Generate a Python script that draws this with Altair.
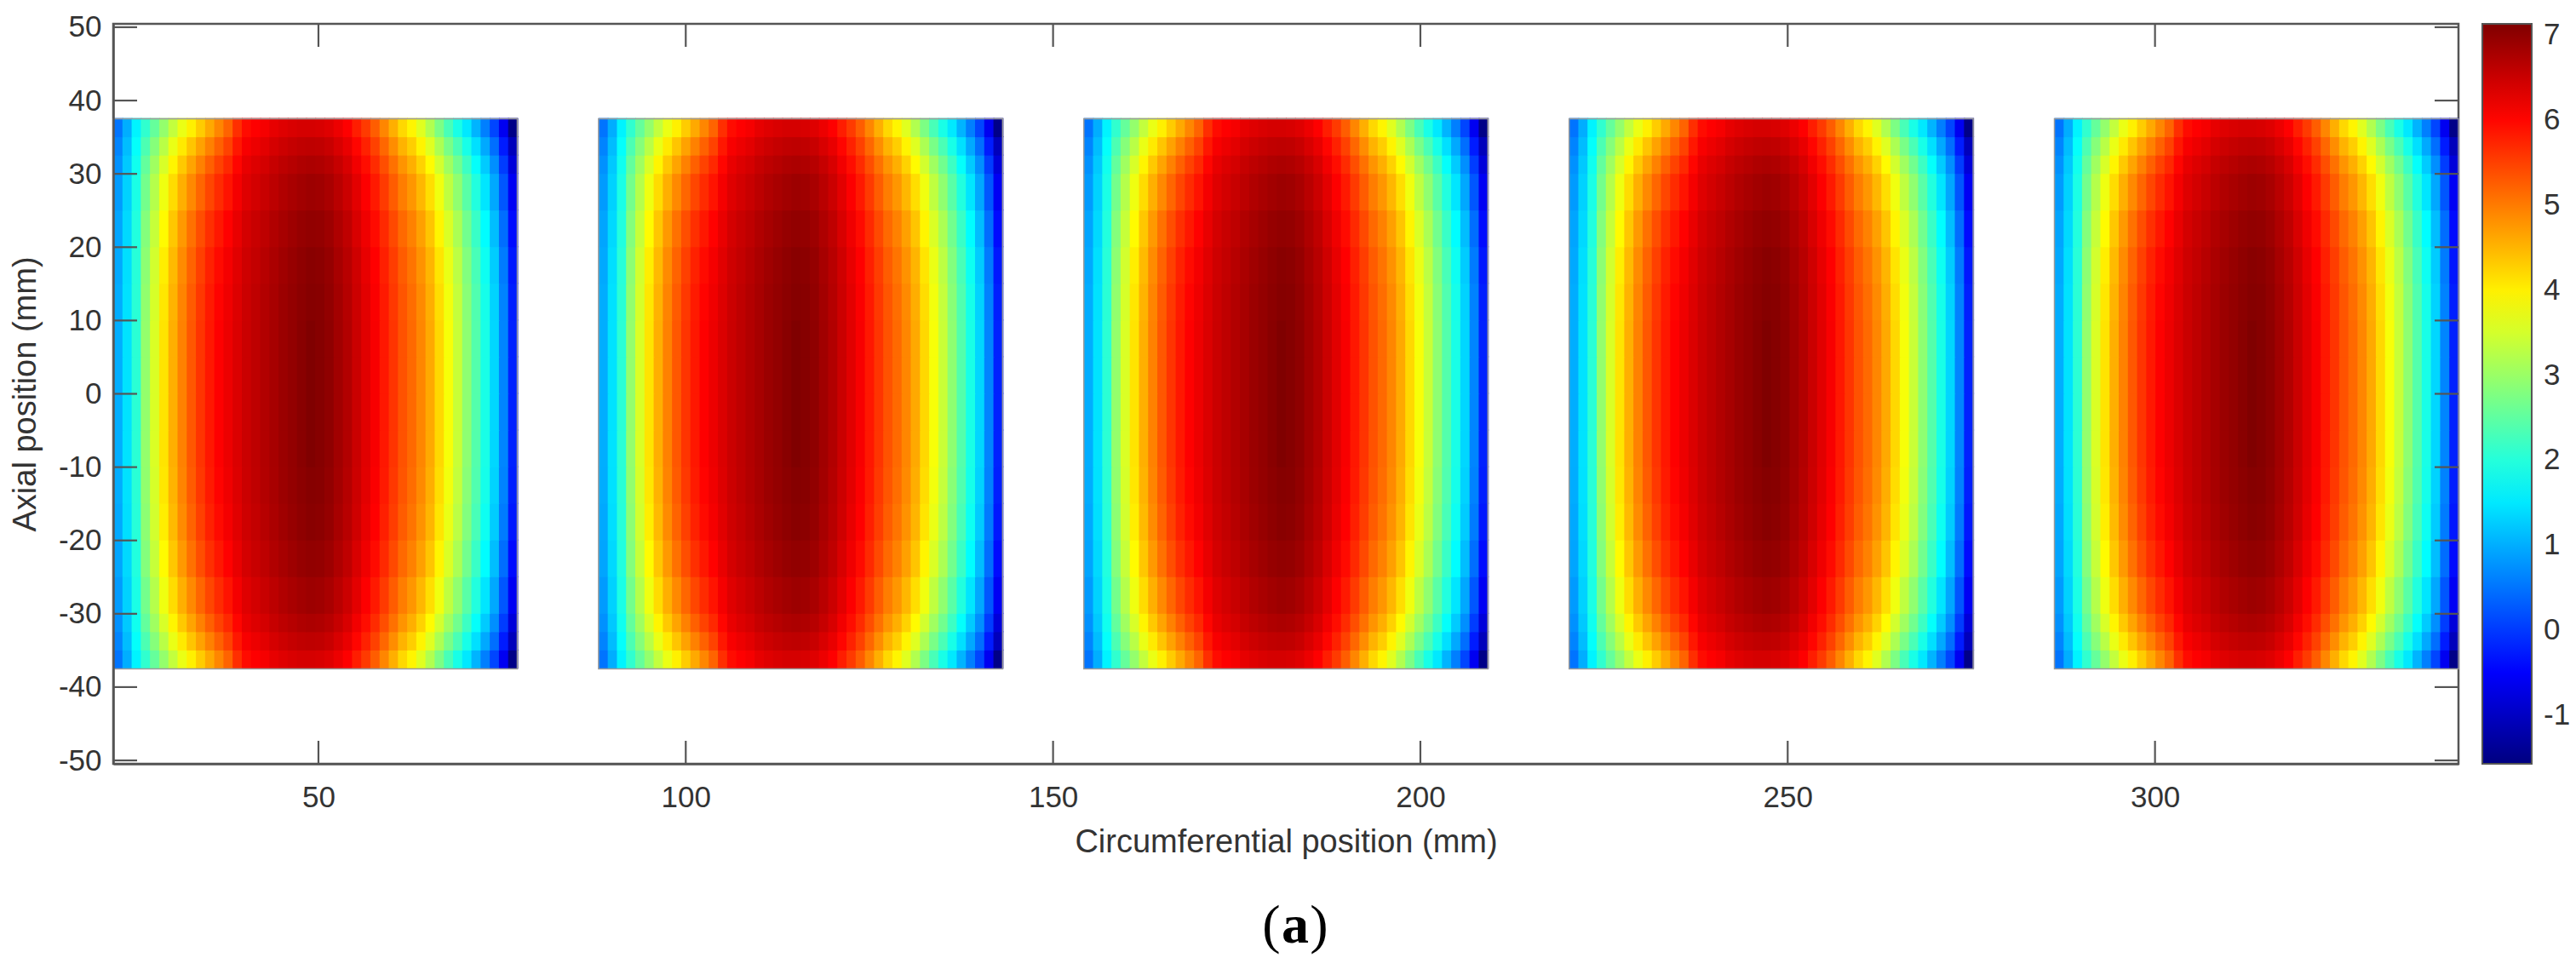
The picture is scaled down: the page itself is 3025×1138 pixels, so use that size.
import altair as alt
import pandas as pd

alt.data_transformers.disable_max_rows()

# ---- data ----
panel_x0 = [22.07, 88.13, 154.19, 220.25, 286.31]
panel_x1 = [77.07, 143.13, 209.19, 275.25, 341.31]
panel_y0 = -37.5
panel_y1 = 37.5

row_edges = [-37.5, -35, -32.5, -30, -25, -20, -15, -10, -5, 0, 5, 10, 15, 20, 25, 30, 32.5, 35, 37.5]
row_class = ["H", "G", "F", "E", "D", "C", "B", "A", "A", "A", "A", "B", "C", "D", "E", "F", "G", "H"]

prof_A = [1.0, 1.45, 2.05, 2.95, 3.55, 4.1, 4.55, 4.95, 5.3, 5.6, 5.85, 6.05, 6.2, 6.35, 6.5, 6.6, 6.7, 6.8, 6.9, 6.97,
          7.05, 7.13, 7.08, 7.0, 6.85, 6.7, 6.5, 6.3, 6.1, 5.85, 5.6, 5.35, 5.15, 4.9, 4.6, 4.2, 3.8, 3.4, 2.9, 2.4,
          1.9, 1.35, 0.65, -0.2]
prof_B = [0.99, 1.44, 2.04, 2.93, 3.52, 4.07, 4.52, 4.92, 5.27, 5.57, 5.82, 6.02, 6.17, 6.33, 6.49, 6.59, 6.69, 6.79,
          6.89, 6.96, 7.03, 7.08, 7.06, 6.98, 6.83, 6.68, 6.48, 6.28, 6.08, 5.83, 5.57, 5.32, 5.12, 4.87, 4.56, 4.16,
          3.76, 3.36, 2.86, 2.37, 1.87, 1.32, 0.62, -0.23]
prof_C = [0.96, 1.42, 2.02, 2.89, 3.48, 4.01, 4.46, 4.86, 5.2, 5.5, 5.76, 5.96, 6.13, 6.3, 6.46, 6.56, 6.66, 6.76, 6.86,
          6.93, 7.0, 7.05, 7.03, 6.95, 6.8, 6.65, 6.45, 6.24, 6.04, 5.78, 5.52, 5.26, 5.06, 4.8, 4.5, 4.09, 3.69, 3.29,
          2.8, 2.3, 1.8, 1.26, 0.56, -0.29]
prof_D = [0.92, 1.37, 1.97, 2.81, 3.38, 3.9, 4.35, 4.74, 5.08, 5.38, 5.64, 5.85, 6.03, 6.23, 6.41, 6.51, 6.6, 6.71, 6.8,
          6.87, 6.94, 6.98, 6.96, 6.88, 6.74, 6.59, 6.38, 6.17, 5.96, 5.69, 5.42, 5.15, 4.95, 4.68, 4.36, 3.95, 3.55,
          3.15, 2.66, 2.17, 1.68, 1.14, 0.44, -0.4]
prof_E = [0.84, 1.31, 1.91, 2.68, 3.23, 3.73, 4.17, 4.55, 4.88, 5.18, 5.45, 5.68, 5.88, 6.13, 6.32, 6.42, 6.51, 6.62,
          6.71, 6.78, 6.84, 6.88, 6.86, 6.78, 6.64, 6.49, 6.28, 6.06, 5.83, 5.55, 5.26, 4.98, 4.77, 4.48, 4.15, 3.74,
          3.32, 2.92, 2.45, 1.97, 1.48, 0.95, 0.25, -0.58]
prof_F = [0.75, 1.23, 1.83, 2.53, 3.05, 3.53, 3.95, 4.33, 4.65, 4.95, 5.23, 5.48, 5.7, 6.0, 6.23, 6.33, 6.41, 6.53,
          6.61, 6.67, 6.73, 6.75, 6.73, 6.66, 6.53, 6.38, 6.15, 5.93, 5.68, 5.38, 5.08, 4.78, 4.55, 4.25, 3.9, 3.48,
          3.05, 2.65, 2.2, 1.73, 1.25, 0.73, 0.03, -0.8]
prof_G = [0.64, 1.13, 1.73, 2.34, 2.83, 3.27, 3.69, 4.05, 4.36, 4.66, 4.95, 5.22, 5.48, 5.85, 6.1, 6.2, 6.28, 6.4,
          6.48, 6.54, 6.58, 6.6, 6.58, 6.51, 6.38, 6.23, 6.0, 5.76, 5.49, 5.17, 4.84, 4.52, 4.29, 3.96, 3.59, 3.16,
          2.72, 2.32, 1.89, 1.43, 0.96, 0.45, -0.25, -1.06]
prof_H = [0.5, 1.0, 1.6, 2.1, 2.55, 2.95, 3.35, 3.7, 4.0, 4.3, 4.6, 4.9, 5.2, 5.65, 5.95, 6.05, 6.12, 6.25, 6.32,
          6.37, 6.4, 6.4, 6.38, 6.32, 6.2, 6.05, 5.8, 5.55, 5.25, 4.9, 4.55, 4.2, 3.95, 3.6, 3.2, 2.75, 2.3, 1.9,
          1.5, 1.05, 0.6, 0.1, -0.6, -1.5]
profiles = {"A": prof_A, "B": prof_B, "C": prof_C, "D": prof_D,
            "E": prof_E, "F": prof_F, "G": prof_G, "H": prof_H}

x_ticks = [50, 100, 150, 200, 250, 300]
y_ticks = [-50, -40, -30, -20, -10, 0, 10, 20, 30, 40, 50]
cbar_ticks = [-1, 0, 1, 2, 3, 4, 5, 6, 7]
x_domain = [22.07, 341.31]
y_domain = [-50.46, 50.46]
c_domain = [-1.57, 7.13]
jet = ["#000080", "#0000ff", "#0080ff", "#00ffff", "#80ff80", "#ffff00", "#ff8000", "#ff0000", "#800000"]

# ---- tables ----
cells = []
for p in range(len(panel_x0)):
    x0, x1 = panel_x0[p], panel_x1[p]
    for r, cls in enumerate(row_class):
        prof = profiles[cls]
        w = (x1 - x0) / len(prof)
        for j, v in enumerate(prof):
            cells.append({"x": x0 + j * w, "x2": x0 + (j + 1) * w,
                          "y": row_edges[r], "y2": row_edges[r + 1], "v": v})
cells_df = pd.DataFrame(cells)
panels_df = pd.DataFrame({"x": panel_x0, "x2": panel_x1,
                          "y": [panel_y0] * 5, "y2": [panel_y1] * 5})
xt_df = pd.DataFrame({"x": x_ticks})
yt_df = pd.DataFrame({"y": y_ticks})
cap_df = pd.DataFrame({"t": ["(a)"]})

W, H = 2754, 869
FONT = "Liberation Sans"
AX_COLOR = "#555555"
TXT = "#333333"
MINUS = "datum.value < 0 ? '-' + abs(datum.value) : '' + datum.value"

xscale = alt.Scale(domain=x_domain, nice=False, zero=False)
yscale = alt.Scale(domain=y_domain, nice=False, zero=False)
cscale = alt.Scale(domain=c_domain, range=jet, interpolate="rgb", nice=False, zero=False)

xaxis = alt.Axis(values=x_ticks, title="Circumferential position (mm)", ticks=False, tickSize=0,
                 grid=False, labelFontSize=35, labelFont=FONT, labelColor=TXT, labelPadding=22,
                 titleFontSize=38, titleFont=FONT, titleColor=TXT, titleFontWeight="normal",
                 titleY=103, titleBaseline="alphabetic",
                 domainColor=AX_COLOR, domainWidth=2.5, zindex=2)
yaxis = alt.Axis(values=y_ticks, title="Axial position (mm)", ticks=False, tickSize=0,
                 grid=False, labelFontSize=35, labelFont=FONT, labelColor=TXT, labelPadding=14,
                 labelExpr=MINUS,
                 titleFontSize=38, titleFont=FONT, titleColor=TXT, titleFontWeight="normal",
                 titleX=-92, titleY=H / 2, titleAngle=270, titleBaseline="alphabetic", titleAlign="center",
                 domainColor=AX_COLOR, domainWidth=2.5, zindex=2)

X = lambda f="x": alt.X(f"{f}:Q", scale=xscale, axis=xaxis)
Y = lambda f="y": alt.Y(f"{f}:Q", scale=yscale, axis=yaxis)

# slight pixel overlap between neighbouring cells hides anti-aliasing seams
heat = alt.Chart(cells_df).mark_rect(strokeWidth=0, x2Offset=1, y2Offset=-1).encode(
    x=X(), x2="x2:Q", y=Y(), y2="y2:Q",
    fill=alt.Fill("v:Q", scale=cscale,
                  legend=alt.Legend(type="gradient", title=None, orient="right", offset=28, padding=0,
                                    gradientLength=H, gradientThickness=58, direction="vertical",
                                    values=cbar_ticks, labelFontSize=35, labelFont=FONT,
                                    labelColor=TXT, labelOffset=14, labelOverlap=False,
                                    labelExpr=MINUS,
                                    gradientStrokeColor=AX_COLOR, gradientStrokeWidth=2)),
)

borders = alt.Chart(panels_df).mark_rect(fillOpacity=0, stroke="#9a9a9a", strokeWidth=1.5).encode(
    x=X(), x2="x2:Q", y=Y(), y2="y2:Q")

xt_bot = alt.Chart(xt_df).mark_rule(color=AX_COLOR, strokeWidth=2.2).encode(
    x=X(), y=alt.value(H), y2=alt.value(H - 27))
xt_top = alt.Chart(xt_df).mark_rule(color=AX_COLOR, strokeWidth=2.2).encode(
    x=X(), y=alt.value(0), y2=alt.value(27))
yt_left = alt.Chart(yt_df).mark_rule(color=AX_COLOR, strokeWidth=2.2).encode(
    y=Y(), x=alt.value(0), x2=alt.value(28))
yt_right = alt.Chart(yt_df).mark_rule(color=AX_COLOR, strokeWidth=2.2).encode(
    y=Y(), x=alt.value(W), x2=alt.value(W - 28))

cap_l = alt.Chart(cap_df).mark_text(text="(", font="Liberation Serif", fontSize=64, color="#000000",
                                    baseline="alphabetic", align="center").encode(
    x=alt.value(1360), y=alt.value(1079))
cap_a = alt.Chart(cap_df).mark_text(text="a", font="Liberation Serif", fontSize=64, fontWeight="bold",
                                    color="#000000", baseline="alphabetic", align="center").encode(
    x=alt.value(1388), y=alt.value(1079))
cap_r = alt.Chart(cap_df).mark_text(text=")", font="Liberation Serif", fontSize=64, color="#000000",
                                    baseline="alphabetic", align="center").encode(
    x=alt.value(1416), y=alt.value(1079))

chart = alt.layer(heat, borders, xt_bot, xt_top, yt_left, yt_right, cap_l, cap_a, cap_r).properties(
    width=W, height=H,
    padding={"left": 125, "top": 20, "right": 130, "bottom": 230},
    autosize=alt.AutoSizeParams(type="none"),
    background="white",
).configure_view(stroke=AX_COLOR, strokeWidth=2.5)

chart.save("out.html", embed_options={"renderer": "svg", "actions": False})
